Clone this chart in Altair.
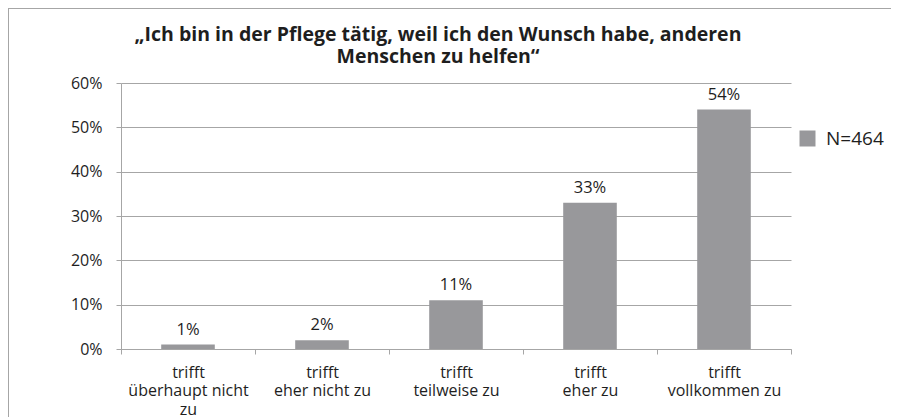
import altair as alt
import pandas as pd

categories = ["trifft|überhaupt nicht|zu", "trifft|eher nicht zu", "trifft|teilweise zu",
              "trifft|eher zu", "trifft|vollkommen zu"]
values = [0.01, 0.02, 0.11, 0.33, 0.54]
series = "N=464"
title_lines = ["„Ich bin in der Pflege tätig, weil ich den Wunsch habe, anderen",
               "Menschen zu helfen“"]

df = pd.DataFrame({"cat": categories, "val": values, "series": [series] * len(values)})

FONT = "Open Sans"
GRAY = "#98989b"
LINE = "#a6a6a6"
TXT = "#1e1e1e"

base = alt.Chart(df)

x = alt.X("cat:N", sort=categories, title=None,
          scale=alt.Scale(paddingInner=0, paddingOuter=0),
          axis=alt.Axis(labelAngle=0, labelExpr="split(datum.label, '|')",
                        tickBand="extent", tickSize=5, tickColor=LINE, domainColor=LINE,
                        labelFont=FONT, labelFontSize=16, labelColor=TXT,
                        labelLineHeight=18.5, labelPadding=10, grid=False))
y = alt.Y("val:Q", title=None,
          scale=alt.Scale(domain=[0, 0.6], nice=False),
          axis=alt.Axis(values=[0, 0.1, 0.2, 0.3, 0.4, 0.5, 0.6], format=".0%",
                        tickSize=5, tickColor=LINE, domainColor=LINE, gridColor=LINE,
                        labelFont=FONT, labelFontSize=16, labelColor=TXT, labelPadding=14))

bars = base.mark_bar(width=alt.RelativeBandSize(0.4)).encode(
    x=x, y=y,
    color=alt.Color("series:N", scale=alt.Scale(range=[GRAY]),
                    legend=alt.Legend(title=None, orient="none", legendX=677, legendY=46,
                                      symbolType="square", symbolSize=256,
                                      symbolStrokeWidth=0, labelFont=FONT,
                                      labelFontSize=19, labelColor=TXT, padding=0,
                                      labelOffset=9)),
)

texts = base.mark_text(dy=-10, baseline="alphabetic", font=FONT, fontSize=16.5, color=TXT).encode(
    x=alt.X("cat:N", sort=categories), y="val:Q", text=alt.Text("val:Q", format=".0%"))

frame = pd.DataFrame({"k": [0]})
left_line = alt.Chart(frame).mark_rule(color=LINE, strokeWidth=1).encode(
    x=alt.value(-112.5), y=alt.value(-75), y2=alt.value(345))
top_line = alt.Chart(frame).mark_rule(color=LINE, strokeWidth=1).encode(
    x=alt.value(-113), x2=alt.value(780), y=alt.value(-74.5))

title1 = alt.Chart(frame).mark_text(font=FONT, fontSize=19.5, fontWeight="bold", color=TXT,
                                    align="center", baseline="alphabetic").encode(
    x=alt.value(317), y=alt.value(-42), text=alt.value(title_lines[0]))
title2 = alt.Chart(frame).mark_text(font=FONT, fontSize=19.5, fontWeight="bold", color=TXT,
                                    align="center", baseline="alphabetic").encode(
    x=alt.value(317), y=alt.value(-20), text=alt.value(title_lines[1]))

chart = alt.layer(left_line, top_line, title1, title2, bars, texts).properties(
    width=670, height=266,
    autosize=alt.AutoSizeParams(type="none"),
    padding={"left": 113, "top": 75, "right": 100, "bottom": 70},
).configure_view(stroke=None).configure_axis(domainWidth=1, tickWidth=1, gridWidth=1)

chart.save("out.html", embed_options={"renderer": "svg", "actions": False})
